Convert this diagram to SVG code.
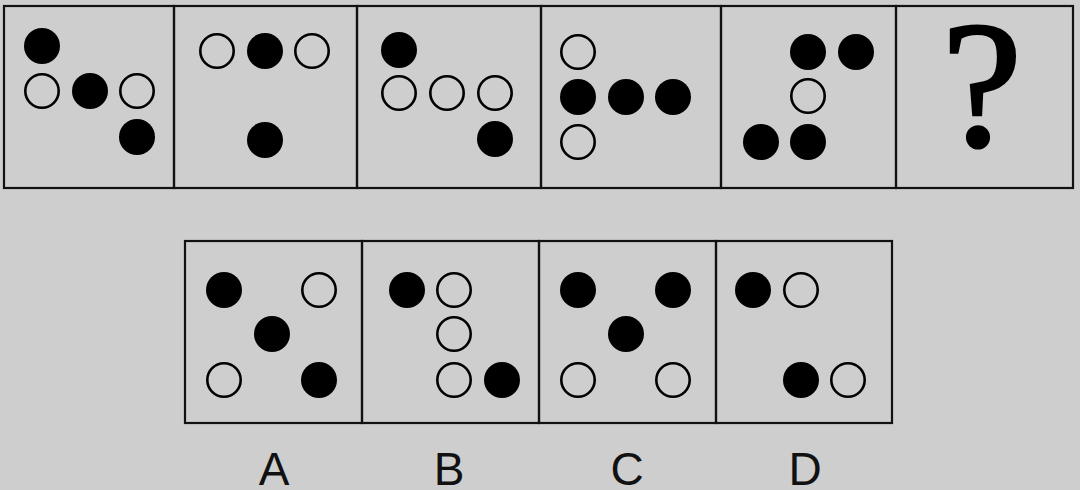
<svg xmlns="http://www.w3.org/2000/svg" width="1080" height="490" viewBox="0 0 1080 490">
<style>
.bg{fill:#cecece}
.frame{fill:none;stroke:#111;stroke-width:2.2}
.f{fill:#000}
.h{fill:none;stroke:#000;stroke-width:2.6}
.lbl{font-family:"Liberation Sans","DejaVu Sans",sans-serif;font-size:46px;fill:#111;text-anchor:middle}
.q{font-family:"Liberation Serif","DejaVu Serif",serif;font-size:180px;fill:#000;stroke:#000;stroke-width:3;text-anchor:middle}
</style>
<rect class="bg" x="0" y="0" width="1080" height="490"/>
<g id="top-row">
  <g id="panel1">
    <rect class="frame" x="4" y="6" width="170" height="182"/>
    <circle class="f" cx="42" cy="46" r="18"/>
    <circle class="h" cx="42" cy="91" r="16.7"/>
    <circle class="f" cx="90" cy="91" r="18"/>
    <circle class="h" cx="137" cy="91" r="16.7"/>
    <circle class="f" cx="137" cy="137" r="18"/>
  </g>
  <g id="panel2">
    <rect class="frame" x="174" y="6" width="183" height="182"/>
    <circle class="h" cx="217" cy="51" r="16.7"/>
    <circle class="f" cx="265" cy="51" r="18"/>
    <circle class="h" cx="312" cy="51" r="16.7"/>
    <circle class="f" cx="265" cy="140" r="18"/>
  </g>
  <g id="panel3">
    <rect class="frame" x="357" y="6" width="184" height="182"/>
    <circle class="f" cx="399" cy="50" r="18"/>
    <circle class="h" cx="399" cy="93" r="16.7"/>
    <circle class="h" cx="447" cy="93" r="16.7"/>
    <circle class="h" cx="495" cy="93" r="16.7"/>
    <circle class="f" cx="495" cy="139" r="18"/>
  </g>
  <g id="panel4">
    <rect class="frame" x="541" y="6" width="180" height="182"/>
    <circle class="h" cx="578" cy="52" r="16.7"/>
    <circle class="f" cx="578" cy="97" r="18"/>
    <circle class="f" cx="626" cy="97" r="18"/>
    <circle class="f" cx="673" cy="97" r="18"/>
    <circle class="h" cx="578" cy="142" r="16.7"/>
  </g>
  <g id="panel5">
    <rect class="frame" x="721" y="6" width="175" height="182"/>
    <circle class="f" cx="808" cy="52" r="18"/>
    <circle class="f" cx="856" cy="52" r="18"/>
    <circle class="h" cx="808" cy="96" r="16.7"/>
    <circle class="f" cx="761" cy="142" r="18"/>
    <circle class="f" cx="808" cy="142" r="18"/>
  </g>
  <g id="panel6">
    <rect class="frame" x="896" y="6" width="177" height="182"/>
    <text class="q" x="982" y="145">?</text>
  </g>
</g>
<g id="options">
  <g id="optionA">
    <rect class="frame" x="185" y="241" width="177" height="182"/>
    <circle class="f" cx="224" cy="290" r="18"/>
    <circle class="h" cx="319" cy="290" r="16.7"/>
    <circle class="f" cx="272" cy="334" r="18"/>
    <circle class="h" cx="224" cy="380" r="16.7"/>
    <circle class="f" cx="319" cy="380" r="18"/>
    <text class="lbl" x="274" y="485">A</text>
  </g>
  <g id="optionB">
    <rect class="frame" x="362" y="241" width="177" height="182"/>
    <circle class="f" cx="407" cy="290" r="18"/>
    <circle class="h" cx="454" cy="290" r="16.7"/>
    <circle class="h" cx="454" cy="334" r="16.7"/>
    <circle class="h" cx="454" cy="380" r="16.7"/>
    <circle class="f" cx="502" cy="380" r="18"/>
    <text class="lbl" x="449" y="485">B</text>
  </g>
  <g id="optionC">
    <rect class="frame" x="539" y="241" width="177" height="182"/>
    <circle class="f" cx="578" cy="290" r="18"/>
    <circle class="f" cx="673" cy="290" r="18"/>
    <circle class="f" cx="626" cy="334" r="18"/>
    <circle class="h" cx="578" cy="380" r="16.7"/>
    <circle class="h" cx="673" cy="380" r="16.7"/>
    <text class="lbl" x="627" y="485">C</text>
  </g>
  <g id="optionD">
    <rect class="frame" x="716" y="241" width="176" height="182"/>
    <circle class="f" cx="753" cy="290" r="18"/>
    <circle class="h" cx="801" cy="290" r="16.7"/>
    <circle class="f" cx="801" cy="380" r="18"/>
    <circle class="h" cx="848" cy="380" r="16.7"/>
    <text class="lbl" x="805" y="485">D</text>
  </g>
</g>
<g id="connectors"/>
</svg>
